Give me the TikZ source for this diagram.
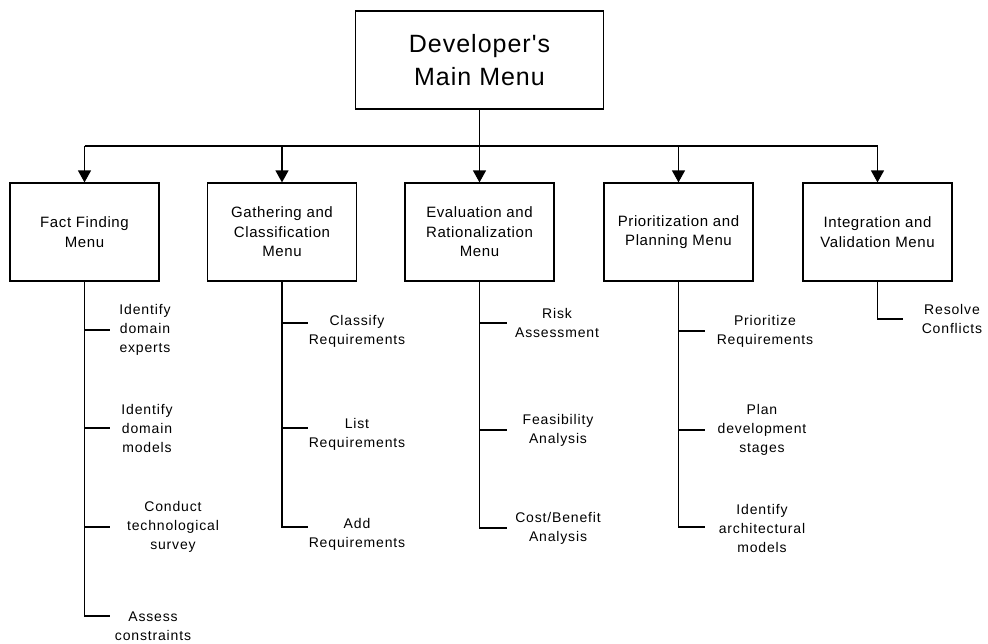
\documentclass[tikz,border=0pt]{standalone}
\usepackage{fontspec}
\usetikzlibrary{arrows.meta}
\newfontfamily\diagfont[LetterSpace=4]{Liberation Sans}
\newfontfamily\leaffont[LetterSpace=6]{Liberation Sans}

\tikzset{
  menubox/.style={draw, line width=1.2pt, minimum width=149pt, minimum height=98pt,
    inner sep=0pt, align=center, font=\diagfont\fontsize{15}{19.5}\selectfont},
  mainbox/.style={draw, line width=1.2pt, minimum width=248pt, minimum height=98pt,
    inner sep=0pt, align=center, font=\diagfont\fontsize{25}{33}\selectfont},
  leaf/.style={inner sep=0pt, align=center, font=\leaffont\fontsize{14}{19}\selectfont},
  link/.style={line width=1.2pt},
  stem/.style={line width=1.6pt},
  arr/.style={line width=1.2pt, -{Triangle[width=13pt,length=12pt]}},
}

\begin{document}
\begin{tikzpicture}[x=1pt, y=-1pt]
  \useasboundingbox (0,0) rectangle (988,643);

  % top level
  \node[mainbox] (m) at (479.5,60) {Developer's\\Main Menu};

  % sub-menus
  \node[menubox] (b1) at (84.5,232) {Fact Finding\\Menu};
  \node[menubox] (b2) at (282,232) {Gathering and\\Classification\\Menu};
  \node[menubox] (b3) at (479.5,232) {Evaluation and\\Rationalization\\Menu};
  \node[menubox] (b4) at (678.5,232) {Prioritization and\\Planning Menu};
  \node[menubox] (b5) at (877.5,232) {Integration and\\Validation Menu};

  % distribution bus
  \coordinate (bus) at (479.5,146);
  \draw[link] (b1.north |- bus) -- (b5.north |- bus);
  \draw[arr] (m.south) -- (b3.north);
  \foreach \b in {b1,b2,b4,b5}
    \draw[arr] (\b.north |- bus) -- (\b.north);

  % leaf items
  \node[leaf] (l11) at (145,330) {Identify\\domain\\experts};
  \node[leaf] (l12) at (147,428) {Identify\\domain\\models};
  \node[leaf] (l13) at (173,527) {Conduct\\technological\\survey};
  \node[leaf] (l14) at (153,626) {Assess\\constraints};

  \node[leaf] (l21) at (357,331) {Classify\\Requirements};
  \node[leaf] (l22) at (357,434) {List\\Requirements};
  \node[leaf] (l23) at (357,534) {Add\\Requirements};

  \node[leaf] (l31) at (557,323) {Risk\\Assessment};
  \node[leaf] (l32) at (558,430) {Feasibility\\Analysis};
  \node[leaf] (l33) at (558,528) {Cost/Benefit\\Analysis};

  \node[leaf] (l41) at (765,331) {Prioritize\\Requirements};
  \node[leaf] (l42) at (762,430) {Plan\\development\\stages};
  \node[leaf] (l43) at (762,528) {Identify\\architectural\\models};

  \node[leaf] (l51) at (952,319) {Resolve\\Conflicts};

  % tick ends
  \coordinate (t11) at (110,330);
  \coordinate (t12) at (110,428);
  \coordinate (t13) at (110,527);
  \coordinate (t14) at (110,616);
  \coordinate (t21) at (308,323);
  \coordinate (t22) at (308,428);
  \coordinate (t23) at (308,527);
  \coordinate (t31) at (507,323);
  \coordinate (t32) at (507,430);
  \coordinate (t33) at (507,528);
  \coordinate (t41) at (705,331);
  \coordinate (t42) at (705,430);
  \coordinate (t43) at (705,527);
  \coordinate (t51) at (903,319);

  % stems ending in an elbow at the last item
  \draw[stem] (b1.south) |- (t14);
  \draw[stem] (b2.south) |- (t23);
  \draw[stem] (b3.south) |- (t33);
  \draw[stem] (b4.south) |- (t43);
  \draw[stem] (b5.south) |- (t51);

  % intermediate ticks
  \foreach \b/\t in {b1/t11,b1/t12,b1/t13,b2/t21,b2/t22,b3/t31,b3/t32,b4/t41,b4/t42}
    \draw[stem] (\b.south |- \t) -- (\t);
\end{tikzpicture}
\end{document}
